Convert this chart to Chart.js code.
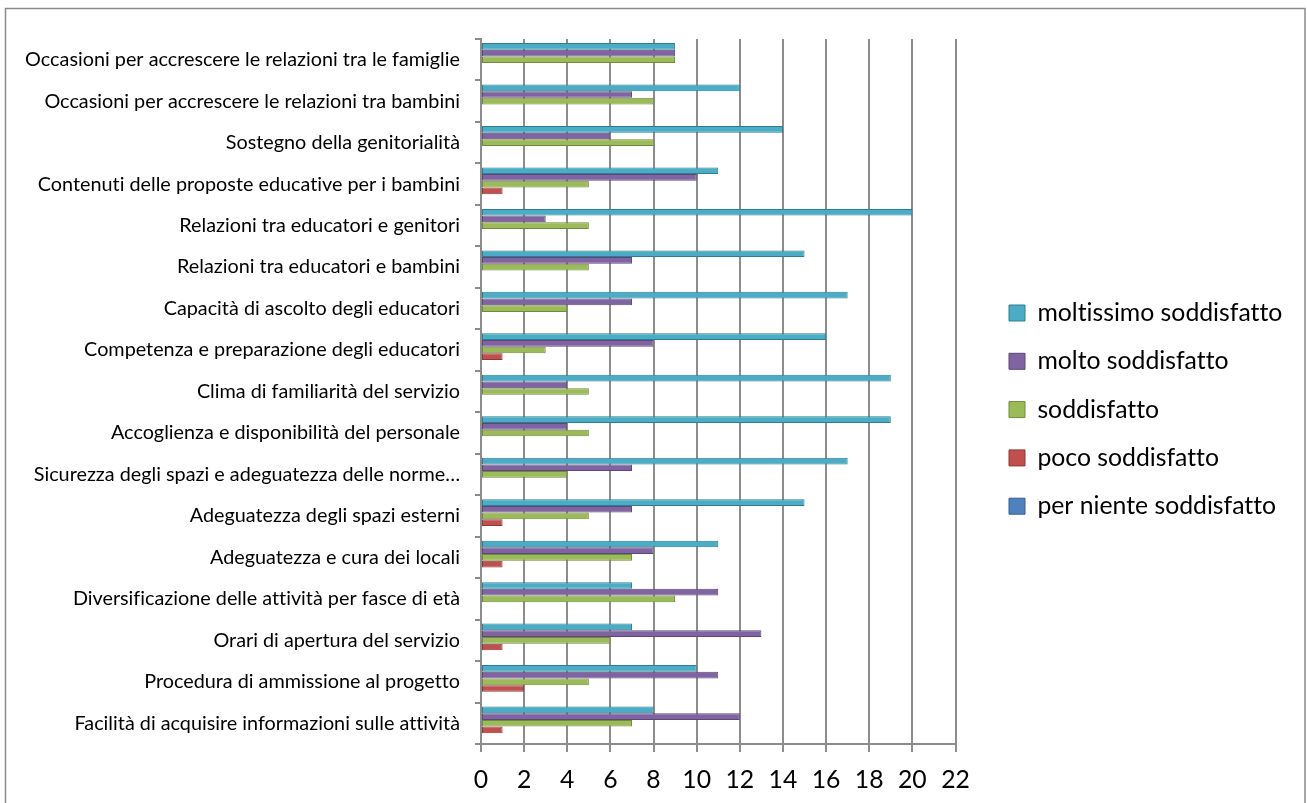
<!DOCTYPE html>
<html>
<head>
<meta charset="utf-8">
<script src="https://cdn.jsdelivr.net/npm/chart.js@4.4.1/dist/chart.umd.min.js"></script>
<style>
html,body{margin:0;padding:0;background:#fff;overflow:hidden}
#wrap{position:absolute;left:0;top:0;width:1307px;height:803px}
</style>
</head>
<body>
<div id="wrap"><canvas id="c"></canvas></div>
<script>
const categories = [
  "Occasioni per accrescere le relazioni tra le famiglie",
  "Occasioni per accrescere le relazioni tra bambini",
  "Sostegno della genitorialità",
  "Contenuti delle proposte educative per i bambini",
  "Relazioni tra educatori e genitori",
  "Relazioni tra educatori e bambini",
  "Capacità di ascolto degli educatori",
  "Competenza e preparazione degli educatori",
  "Clima di familiarità del servizio",
  "Accoglienza e disponibilità del personale",
  "Sicurezza degli spazi e adeguatezza delle norme…",
  "Adeguatezza degli spazi esterni",
  "Adeguatezza e cura dei locali",
  "Diversificazione delle attività per fasce di età",
  "Orari di apertura del servizio",
  "Procedura di ammissione al progetto",
  "Facilità di acquisire informazioni sulle attività"
];
const seriesNames = ["moltissimo soddisfatto", "molto soddisfatto", "soddisfatto", "poco soddisfatto", "per niente soddisfatto"];
const moltissimo  = [9, 12, 14, 11, 20, 15, 17, 16, 19, 19, 17, 15, 11, 7, 7, 10, 8];
const molto       = [9, 7, 6, 10, 3, 7, 7, 8, 4, 4, 7, 7, 8, 11, 13, 11, 12];
const soddisfatto = [9, 8, 8, 5, 5, 5, 4, 3, 5, 5, 4, 5, 7, 9, 6, 5, 7];
const poco        = [0, 0, 0, 1, 0, 0, 0, 1, 0, 0, 0, 1, 1, 0, 1, 2, 1];
const perNiente   = [0, 0, 0, 0, 0, 0, 0, 0, 0, 0, 0, 0, 0, 0, 0, 0, 0];
const xTicks = [0, 2, 4, 6, 8, 10, 12, 14, 16, 18, 20, 22];

const FAMILY = 'Lato';
function fitSize(text, width) {
  const ctx = document.createElement('canvas').getContext('2d');
  try { ctx.textRendering = 'optimizeSpeed'; } catch (e) {}
  ctx.font = '100px ' + FAMILY;
  return 100 * width / ctx.measureText(text).width;
}
const labelSize = fitSize(categories[0], 435);
const legendSize = fitSize(seriesNames[0], 245);
const tickSize = legendSize;

const fills   = ['#4BACC6', '#8064A2', '#9BBB59', '#C0504D', '#4F81BD'];
const borders = ['#2F7D92', '#5C4776', '#71893F', '#8C3836', '#385D8A'];
const seriesData = [moltissimo, molto, soddisfatto, poco, perNiente];

const GRID = '#8c8c8c';
const LEG_PAD = Math.max(48.3 - legendSize, 4);

const frame = {
  id: 'frame',
  beforeDraw(chart) {
    const ctx = chart.ctx;
    try { ctx.textRendering = 'optimizeSpeed'; } catch (e) {}
    ctx.save();
    ctx.fillStyle = '#fff';
    ctx.fillRect(0, 0, chart.width, chart.height);
    ctx.strokeStyle = '#8a8a8a';
    ctx.lineWidth = 1.5;
    ctx.strokeRect(5.5, 8.5, 1299.5, 830);
    ctx.restore();
  }
};

const legendPlacer = {
  id: 'legendPlacer',
  beforeLayout(chart) {
    const lg = chart.legend;
    if (lg && !lg._patched) {
      const origFit = lg.fit.bind(lg);
      lg.fit = function () { origFit(); this.width = 1307 - 955.5; };
      lg._patched = true;
    }
  },
  afterLayout(chart) {
    const lg = chart.legend;
    if (!lg) return;
    const itemH = Math.max(legendSize, 16);
    lg.left = 1009 - LEG_PAD;
    lg.right = 1307;
    lg.width = lg.right - lg.left;
    lg.top = 313 - LEG_PAD - itemH / 2;
    lg.bottom = 803;
    lg.height = lg.bottom - lg.top;
  }
};

new Chart(document.getElementById('c'), {
  type: 'bar',
  data: {
    labels: categories,
    datasets: seriesNames.map((name, i) => ({
      label: name,
      data: seriesData[i],
      backgroundColor: fills[i],
      borderColor: borders[i],
      borderWidth: 1,
      borderSkipped: false,
      categoryPercentage: 0.806,
      barPercentage: 1.0
    }))
  },
  options: {
    indexAxis: 'y',
    responsive: true,
    maintainAspectRatio: false,
    animation: false,
    devicePixelRatio: 1,
    color: '#000',
    layout: { padding: { top: 39, left: 0, right: 0, bottom: 0 } },
    plugins: {
      legend: {
        position: 'right',
        align: 'start',
        labels: {
          color: '#000',
          boxWidth: 16,
          boxHeight: 16,
          padding: LEG_PAD,
          font: { family: FAMILY, size: legendSize }
        }
      },
      tooltip: { enabled: false }
    },
    scales: {
      x: {
        type: 'linear',
        min: xTicks[0],
        max: xTicks[xTicks.length - 1],
        ticks: {
          stepSize: xTicks[1] - xTicks[0],
          color: '#000',
          padding: 13,
          font: { family: FAMILY, size: tickSize },
          maxRotation: 0
        },
        grid: { color: GRID, lineWidth: 2, tickLength: 8, drawTicks: true },
        border: { display: true, color: GRID, width: 2 },
        afterFit(scale) { scale.height = 803 - 744; }
      },
      y: {
        type: 'category',
        ticks: {
          color: '#000',
          padding: 15,
          autoSkip: false,
          font: { family: FAMILY, size: labelSize }
        },
        grid: { offset: true, drawOnChartArea: false, drawTicks: true, tickLength: 6, color: GRID, lineWidth: 2 },
        border: { display: true, color: GRID, width: 2 },
        afterFit(scale) { scale.width = 481; }
      }
    }
  },
  plugins: [frame, legendPlacer]
});
</script>
</body>
</html>
